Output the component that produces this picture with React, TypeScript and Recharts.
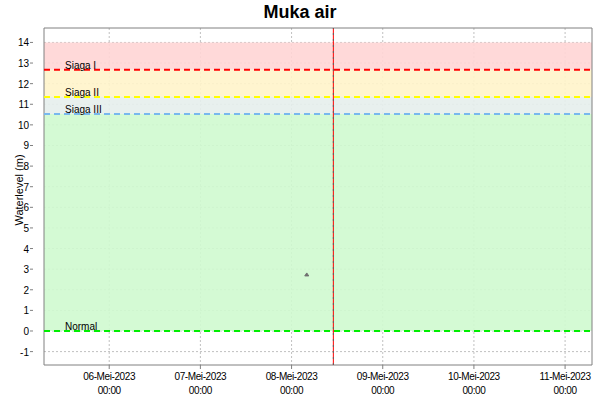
import React from "react";
import {
  ComposedChart,
  Scatter,
  XAxis,
  YAxis,
  CartesianGrid,
  ReferenceLine,
  ReferenceArea,
} from "recharts";

// observed water level
const levelTimes = [Date.UTC(2023, 4, 8, 4, 0)];
const levelValues = [2.72];

// warning thresholds (m)
const thresholdNames = ["Siaga I", "Siaga II", "Siaga III", "Normal"];
const thresholdValues = [12.67, 11.35, 10.53, 0];
const bandTop = 14;

// time window + "now" marker
const windowStart = Date.UTC(2023, 4, 5, 6, 50);
const windowEnd = Date.UTC(2023, 4, 11, 7, 5);
const nowTime = Date.UTC(2023, 4, 8, 11, 0);
const dayTicks = [6, 7, 8, 9, 10, 11].map((d) => Date.UTC(2023, 4, d));
const levelTicks = [-1, 0, 1, 2, 3, 4, 5, 6, 7, 8, 9, 10, 11, 12, 13, 14];

const lineColors = ["#ff0000", "#ffff00", "#78b8ee", "#00ee00"];
// band colours at 90% opacity so the grid shows faintly through
const bandColors = ["#ffd5d5", "#fff4ca", "#e5eeec", "#cff9cf"];

const FONT = "'Liberation Sans', Arial, sans-serif";

const data = levelTimes.map((t, i) => ({ t, level: levelValues[i] }));

const pad = (n: number) => (n < 10 ? "0" + n : "" + n);

const XTick = ({ x, y, payload }: any) => {
  const d = new Date(payload.value);
  return (
    <g>
      <line x1={x} x2={x} y1={y - 8} y2={y - 4} stroke="#808080" />
      <text x={x} y={y + 7} textAnchor="middle" fontSize={10} fontFamily={FONT} fill="#000" letterSpacing={-0.4}>
        {`${pad(d.getUTCDate())}-Mei-${d.getUTCFullYear()}`}
      </text>
      <text x={x} y={y + 21} textAnchor="middle" fontSize={10} fontFamily={FONT} fill="#000" letterSpacing={-0.4}>
        {`${pad(d.getUTCHours())}:${pad(d.getUTCMinutes())}`}
      </text>
    </g>
  );
};

const YTick = ({ x, y, payload }: any) => (
  <g>
    <line x1={x - 6} x2={x - 3} y1={y} y2={y} stroke="#808080" />
    <text x={x - 7} y={y + 4} textAnchor="end" fontSize={10} fontFamily={FONT} fill="#000">
      {payload.value}
    </text>
  </g>
);

const ThresholdLabel = ({ viewBox, text }: any) => (
  <text x={viewBox.x + 21} y={viewBox.y - 1} fontSize={10} fontFamily={FONT} fill="#000">
    {text}
  </text>
);

const Marker = ({ cx, cy }: any) => (
  <path d={`M${cx - 2},${cy + 1} L${cx},${cy - 2} L${cx + 2},${cy + 1} Z`} fill="#707070" stroke="#707070" />
);

export default function App() {
  const bandEdges = [bandTop, ...thresholdValues];
  return (
    <div style={{ position: "absolute", left: 0, top: 0, width: 600, height: 400, background: "#fff" }}>
      <div
        style={{
          position: "absolute",
          top: 2,
          width: 600,
          textAlign: "center",
          fontFamily: FONT,
          fontWeight: "bold",
          fontSize: 18,
        }}
      >
        Muka air
      </div>
      <div
        style={{
          position: "absolute",
          left: 19,
          top: 190,
          transform: "translate(-50%, -50%) rotate(-90deg)",
          fontFamily: FONT,
          fontSize: 11,
          whiteSpace: "nowrap",
        }}
      >
        Waterlevel (m)
      </div>
      <ComposedChart width={600} height={400} data={data} margin={{ top: 28, right: 8, left: 0, bottom: 0 }}>
        <CartesianGrid stroke="#c0c0c0" strokeDasharray="2 2" horizontalValues={levelTicks} verticalValues={dayTicks} />
        <XAxis
          type="number"
          dataKey="t"
          domain={[windowStart, windowEnd]}
          ticks={dayTicks}
          interval={0}
          allowDataOverflow
          axisLine={false}
          tickLine={false}
          tick={<XTick />}
          height={35}
        />
        <YAxis
          type="number"
          domain={[-1.65, 14.7]}
          ticks={levelTicks}
          allowDataOverflow
          axisLine={false}
          tickLine={false}
          tick={<YTick />}
          width={44}
          interval={0}
        />
        {thresholdValues.map((v, i) => (
          <ReferenceArea
            key={"band" + i}
            y1={v}
            y2={bandEdges[i]}
            fill={bandColors[i]}
            fillOpacity={0.9}
            stroke="none"
          />
        ))}
        {thresholdValues.map((v, i) => (
          <ReferenceLine
            key={"line" + i}
            y={v}
            stroke={lineColors[i]}
            strokeWidth={2}
            strokeDasharray="6 4"
            label={<ThresholdLabel text={thresholdNames[i]} />}
          />
        ))}
        <ReferenceLine x={nowTime} stroke="#ff0000" strokeWidth={1} />
        <ReferenceLine x={nowTime} stroke="#606060" strokeWidth={1} strokeDasharray="2 4" />
        <ReferenceArea
          x1={windowStart}
          x2={windowEnd}
          y1={-1.65}
          y2={14.7}
          fill="none"
          stroke="#808080"
          strokeWidth={1}
        />
        <Scatter dataKey="level" fill="#707070" shape={<Marker />} isAnimationActive={false} />
      </ComposedChart>
    </div>
  );
}
